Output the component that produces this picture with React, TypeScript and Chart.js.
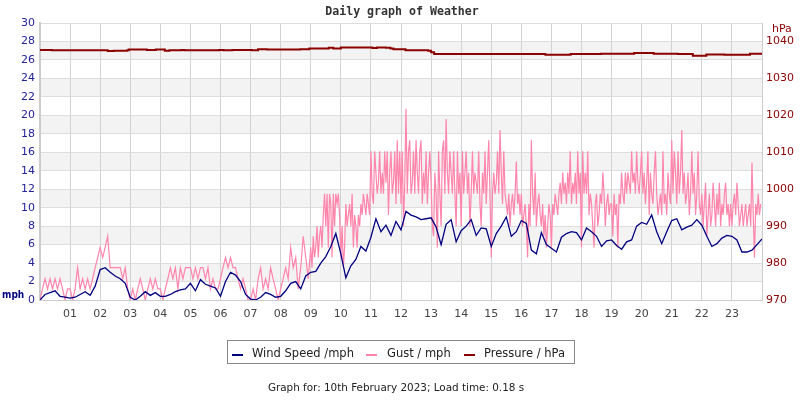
import React, { useEffect, useRef } from "react";
import { Chart, registerables } from "chart.js";

Chart.register(...registerables);

// ---- data ----
const xTickLabels = ["01","02","03","04","05","06","07","08","09","10","11","12","13","14","15","16","17","18","19","20","21","22","23"];
const pressureTicks = [970, 980, 990, 1000, 1010, 1020, 1030, 1040];

// wind speed, every 10 minutes (6 per hour) plus the closing value
const windSpeed = [
  0.0, 0.6, 0.8, 1.0, 0.4, 0.3,
  0.2, 0.3, 0.6, 0.9, 0.5, 1.5,
  3.3, 3.5, 3.0, 2.6, 2.3, 1.8,
  0.3, 0.0, 0.4, 0.9, 0.5, 0.8,
  0.4, 0.4, 0.6, 0.9, 1.1, 1.2,
  1.8, 1.0, 2.2, 1.7, 1.5, 1.3,
  0.4, 2.0, 3.0, 2.7, 2.0, 0.6,
  0.1, 0.0, 0.3, 0.8, 0.6, 0.3,
  0.4, 1.0, 1.8, 2.0, 1.2, 2.6,
  3.0, 3.1, 4.0, 4.7, 5.8, 7.2,
  5.0, 2.4, 3.7, 4.4, 5.8, 5.3,
  6.8, 8.8, 7.4, 8.1, 7.0, 8.5,
  7.6, 9.6, 9.2, 9.0, 8.7, 8.8,
  8.9, 7.9, 6.0, 8.2, 8.7, 6.3,
  7.5, 8.0, 8.7, 7.0, 7.8, 7.7,
  5.8, 7.2, 8.0, 9.0, 6.9, 7.4,
  8.6, 8.3, 5.4, 5.0, 7.3, 6.0,
  5.6, 5.2, 6.8, 7.2, 7.4, 7.3,
  6.5, 7.8, 7.4, 6.9, 5.8, 6.4,
  6.5, 5.9, 5.5, 6.3, 6.5, 8.0,
  8.4, 8.2, 9.2, 7.4, 6.1, 7.4,
  8.6, 8.8, 7.6, 7.9, 8.1, 8.7,
  8.1, 6.9, 5.8, 6.1, 6.7, 7.0,
  6.9, 6.5, 5.2, 5.2, 5.4, 6.0,
  6.6,
];

// gust readings, one row per hour (samples evenly spread through the hour)
const gustByHour: number[][] = [
  [0, 1.2, 2.3, 1.2, 2.3, 1.2, 2.3, 1.2, 2.3, 1.2, 0, 1.2],
  [1.2, 0, 1.2, 3.5, 1.2, 2.3, 1.2, 2.3, 1.2, 2.3, 3.5, 4.6],
  [5.7, 4.6, 5.7, 6.9, 3.5, 3.5, 3.5, 3.5, 3.5, 2.3, 3.5, 1.2],
  [0, 1.2, 0, 1.2, 2.3, 1.2, 0, 1.2, 2.3, 1.2, 2.3, 1.2],
  [1.2, 0, 1.2, 2.3, 3.5, 2.3, 3.5, 1.2, 3.5, 2.3, 3.5, 3.5],
  [3.5, 2.3, 3.5, 2.3, 3.5, 3.5, 2.3, 3.5, 1.2, 2.3, 1.2, 1.2],
  [2.3, 3.5, 4.6, 3.5, 4.6, 3.5, 3.5, 2.3, 1.2, 2.3, 1.2, 0],
  [0, 1.2, 0, 2.3, 3.5, 1.2, 2.3, 1.2, 3.5, 2.3, 1.2, 0],
  [1.2, 2.3, 3.5, 2.3, 5.7, 3.5, 4.6, 1.2, 3.5, 6.9, 4.6, 2.3],
  [5.7, 3.5, 6.9, 4.6, 5.7, 8.0, 4.6, 6.9, 8.0, 5.7, 9.2, 11.5, 8.0, 11.5, 5.7, 11.5, 10.4, 4.6, 11.5, 8.0, 11.5, 10.4, 11.5, 9.2],
  [4.6, 8.0, 3.5, 5.7, 10.4, 8.0, 9.2, 10.4, 8.0, 11.5, 5.7, 9.2, 8.0, 5.7, 9.2, 8.0, 10.4, 9.2, 11.5, 10.4, 9.2, 11.5, 10.4, 9.2],
  [16.1, 11.5, 10.4, 16.1, 13.8, 11.5, 12.7, 16.1, 11.5, 13.8, 11.5, 16.1, 12.7, 16.1, 9.2, 13.8, 16.1, 11.5, 12.7, 16.1, 10.4, 17.3, 11.5, 16.1],
  [10.4, 16.1, 8.0, 12.7, 20.7, 11.5, 16.1, 17.3, 11.5, 12.7, 16.1, 11.5, 17.3, 13.8, 11.5, 16.1, 17.3, 10.4, 13.8, 11.5, 16.1, 10.4, 13.8, 16.1],
  [12.7, 8.0, 6.9, 13.8, 11.5, 5.7, 16.1, 11.5, 8.0, 16.1, 17.3, 11.5, 19.6, 13.8, 11.5, 16.1, 13.8, 11.5, 16.1, 11.5, 8.0, 16.1, 11.5, 13.8],
  [8.0, 16.1, 11.5, 13.8, 16.1, 11.5, 13.8, 8.0, 11.5, 16.1, 11.5, 13.8, 12.7, 11.5, 16.1, 10.4, 8.0, 13.8, 11.5, 16.1, 10.4, 13.8, 17.3, 11.5],
  [4.6, 11.5, 13.8, 11.5, 12.7, 16.1, 11.5, 18.4, 13.8, 10.4, 16.1, 11.5, 10.4, 9.2, 11.5, 8.0, 10.4, 11.5, 9.2, 11.5, 15.0, 10.4, 11.5, 9.2],
  [11.5, 8.0, 9.2, 10.4, 8.0, 4.6, 10.4, 8.0, 17.3, 11.5, 9.2, 13.8, 8.0, 10.4, 11.5, 9.2, 8.0, 10.4, 6.9, 9.2, 5.7, 8.0, 10.4, 9.2],
  [5.7, 10.4, 9.2, 11.5, 10.4, 9.2, 11.5, 12.7, 10.4, 13.8, 11.5, 12.7, 10.4, 13.8, 11.5, 16.1, 10.4, 12.7, 11.5, 13.8, 10.4, 16.1, 11.5, 13.8],
  [5.7, 16.1, 11.5, 13.8, 11.5, 16.1, 9.2, 11.5, 10.4, 8.0, 5.7, 10.4, 11.5, 8.0, 9.2, 11.5, 10.4, 13.8, 11.5, 8.0, 10.4, 11.5, 9.2, 10.4],
  [10.4, 6.9, 11.5, 9.2, 10.4, 5.7, 11.5, 10.4, 13.8, 11.5, 10.4, 13.8, 11.5, 13.8, 12.7, 11.5, 16.1, 12.7, 13.8, 11.5, 16.1, 12.7, 11.5, 13.8],
  [16.1, 11.5, 13.8, 10.4, 12.7, 16.1, 9.2, 13.8, 11.5, 10.4, 13.8, 16.1, 11.5, 9.2, 10.4, 11.5, 9.2, 16.1, 10.4, 11.5, 9.2, 13.8, 11.5, 10.4],
  [17.3, 11.5, 16.1, 13.8, 10.4, 16.1, 11.5, 13.8, 18.4, 11.5, 13.8, 10.4, 11.5, 13.8, 9.2, 11.5, 16.1, 11.5, 13.8, 9.2, 11.5, 16.1, 10.4, 9.2],
  [11.5, 8.0, 10.4, 12.7, 6.9, 9.2, 11.5, 8.0, 9.2, 12.7, 10.4, 8.0, 11.5, 9.2, 12.7, 8.0, 10.4, 9.2, 11.5, 12.7, 9.2, 10.4, 8.0, 10.4],
  [8.0, 10.4, 11.5, 9.2, 12.7, 10.4, 8.0, 9.2, 10.4, 8.0, 9.2, 10.4, 8.0, 9.2, 10.4, 8.0, 14.9, 9.2, 4.6, 10.4, 9.2, 11.5, 9.2, 10.4],
];

// pressure readings: hour of day and hPa
const pressureHours = [
  0, 0.35, 0.4, 2.2, 2.25, 2.45, 2.9, 2.95, 3.5, 3.55, 3.8, 3.85, 4.1, 4.15, 4.3, 4.65, 4.7, 4.8,
  5.9, 5.95, 6.1, 6.4, 7.0, 7.05, 7.25, 7.55, 8.0, 8.6, 8.65, 8.9, 8.95, 9.55, 9.6, 9.75, 9.95, 10.0,
  11.0, 11.05, 11.2, 11.5, 11.65, 11.75, 12.1, 12.15, 12.9, 13.0, 13.1, 16.0, 16.75, 16.8, 17.6, 17.65,
  18.6, 18.65, 19.7, 19.75, 20.35, 20.4, 21.2, 21.65, 21.7, 22.1, 22.15, 22.7, 22.75, 23.55, 23.6, 24,
];
const pressure = [
  1037.7, 1037.7, 1037.6, 1037.6, 1037.4, 1037.5, 1037.6, 1037.8, 1037.8, 1037.7, 1037.7, 1037.8, 1037.8, 1037.5, 1037.6, 1037.6, 1037.7, 1037.6,
  1037.6, 1037.7, 1037.6, 1037.7, 1037.7, 1037.6, 1037.9, 1037.8, 1037.8, 1037.8, 1037.9, 1037.9, 1038.1, 1038.1, 1038.3, 1038.1, 1038.1, 1038.4,
  1038.4, 1038.2, 1038.4, 1038.3, 1038.1, 1037.9, 1037.9, 1037.6, 1037.5, 1037.1, 1036.6, 1036.6, 1036.6, 1036.4, 1036.5, 1036.6,
  1036.6, 1036.7, 1036.7, 1036.9, 1036.9, 1036.7, 1036.6, 1036.6, 1036.1, 1036.1, 1036.5, 1036.5, 1036.4, 1036.4, 1036.7, 1036.6,
];

const seriesLabels = ["Wind Speed /mph", "Gust / mph", "Pressure / hPa"];
const seriesColors = ["#000080", "#ff85ad", "#8b0000"];
const titleText = "Daily graph of Weather";
const footerText = "Graph for: 10th February 2023; Load time: 0.18 s";

const FONT = "'DejaVu Sans', Verdana, sans-serif";

const decorPlugin = {
  id: "decor",
  beforeDraw(chart: any) {
    const { ctx, chartArea } = chart;
    const y = chart.scales.y;
    ctx.save();
    ctx.fillStyle = "#ffffff";
    ctx.fillRect(0, 0, chart.width, chart.height);
    ctx.fillStyle = "#f3f3f3";
    for (let v = 2; v < 30; v += 4) {
      const top = y.getPixelForValue(v + 2);
      const bot = y.getPixelForValue(v);
      ctx.fillRect(chartArea.left, top, chartArea.right - chartArea.left, bot - top);
    }
    ctx.restore();
  },
  afterDraw(chart: any) {
    const { ctx, chartArea } = chart;
    ctx.save();
    // title
    ctx.fillStyle = "#333333";
    ctx.font = "bold 11.6px 'DejaVu Sans Mono', monospace";
    ctx.textAlign = "center";
    ctx.textBaseline = "middle";
    ctx.fillText(titleText, 402, 12);
    // axis unit labels
    ctx.font = "bold 10px 'DejaVu Sans Condensed', 'DejaVu Sans', sans-serif";
    ctx.fillStyle = "#000080";
    ctx.textAlign = "left";
    ctx.fillText("mph", 2, chartArea.bottom - 5);
    ctx.font = "11px " + FONT;
    ctx.fillStyle = "#8b0000";
    ctx.fillText("hPa", 772, 29);
    // legend
    ctx.font = "11.5px " + FONT;
    const boxX = 227.5, boxY = 340.5, boxW = 347, boxH = 23;
    ctx.strokeStyle = "#888888";
    ctx.lineWidth = 1;
    ctx.strokeRect(boxX, boxY, boxW, boxH);
    const markerX = [232, 366, 464];
    const textX = [252, 387, 484];
    const ly = 354;
    seriesLabels.forEach((s, i) => {
      ctx.strokeStyle = seriesColors[i];
      ctx.lineWidth = 2;
      ctx.beginPath();
      ctx.moveTo(markerX[i], ly + 1);
      ctx.lineTo(markerX[i] + 11, ly + 1);
      ctx.stroke();
      ctx.fillStyle = "#222222";
      ctx.textAlign = "left";
      ctx.fillText(s, textX[i], ly);
    });
    // footer
    ctx.font = "10.4px " + FONT;
    ctx.textAlign = "center";
    ctx.fillStyle = "#222222";
    ctx.fillText(footerText, 396, 388);
    ctx.restore();
  },
};

export default function App() {
  const ref = useRef<HTMLCanvasElement | null>(null);
  useEffect(() => {
    if (!ref.current) return;
    const windData = windSpeed.map((v, i) => ({ x: i / 6, y: v }));
    const gustData: { x: number; y: number }[] = [];
    gustByHour.forEach((row, h) => {
      row.forEach((v, j) => gustData.push({ x: h + j / row.length, y: v }));
    });
    const pressData = pressure.map((v, i) => ({ x: pressureHours[i], y: v }));
    const chart = new Chart(ref.current, {
      type: "line",
      data: {
        datasets: [
          { label: seriesLabels[0], data: windData, borderColor: seriesColors[0], borderWidth: 1.3, pointRadius: 0, tension: 0, yAxisID: "y" },
          { label: seriesLabels[1], data: gustData, borderColor: seriesColors[1], borderWidth: 1.2, pointRadius: 0, tension: 0, yAxisID: "y" },
          { label: seriesLabels[2], data: pressData, borderColor: seriesColors[2], borderWidth: 2, pointRadius: 0, stepped: true, yAxisID: "y1" },
        ],
      },
      options: {
        animation: false,
        responsive: false,
        devicePixelRatio: 1,
        layout: { padding: { top: 23, bottom: 76, left: 0, right: 0 } },
        plugins: { legend: { display: false }, title: { display: false }, tooltip: { enabled: false } },
        scales: {
          x: {
            type: "linear",
            min: 0,
            max: 24,
            afterFit: (s: any) => { s.height = 24; },
            ticks: {
              stepSize: 1,
              autoSkip: false,
              maxRotation: 0,
              padding: 8,
              color: "#444444",
              font: { family: FONT, size: 11 },
              callback: (v: any) => xTickLabels[Number(v) - 1] ?? "",
            },
            grid: { color: "#d2d2d2", drawTicks: false },
            border: { display: true, color: "#cccccc" },
          },
          y: {
            position: "left",
            min: 0,
            max: 30,
            afterFit: (s: any) => { s.width = 40; },
            ticks: { stepSize: 2, padding: 5, color: "#222299", font: { family: FONT, size: 11 } },
            grid: { color: "#dddddd", drawTicks: false },
            border: { color: "#cccccc", width: 2 },
          },
          y1: {
            position: "right",
            min: 970,
            max: 1045,
            afterFit: (s: any) => { s.width = 38; },
            afterBuildTicks: (s: any) => { s.ticks = pressureTicks.map((value) => ({ value })); },
            ticks: { padding: 4, color: "#8b0000", font: { family: FONT, size: 11 }, callback: (v: any) => String(v) },
            grid: { display: false, drawTicks: false },
            border: { color: "#cccccc", width: 1 },
          },
        },
      },
      plugins: [decorPlugin],
    });
    return () => chart.destroy();
  }, []);
  return (
    <div style={{ position: "fixed", left: 0, top: 0, width: 800, height: 400, background: "#fff" }}>
      <canvas ref={ref} width={800} height={400} style={{ width: 800, height: 400, display: "block" }} />
    </div>
  );
}
